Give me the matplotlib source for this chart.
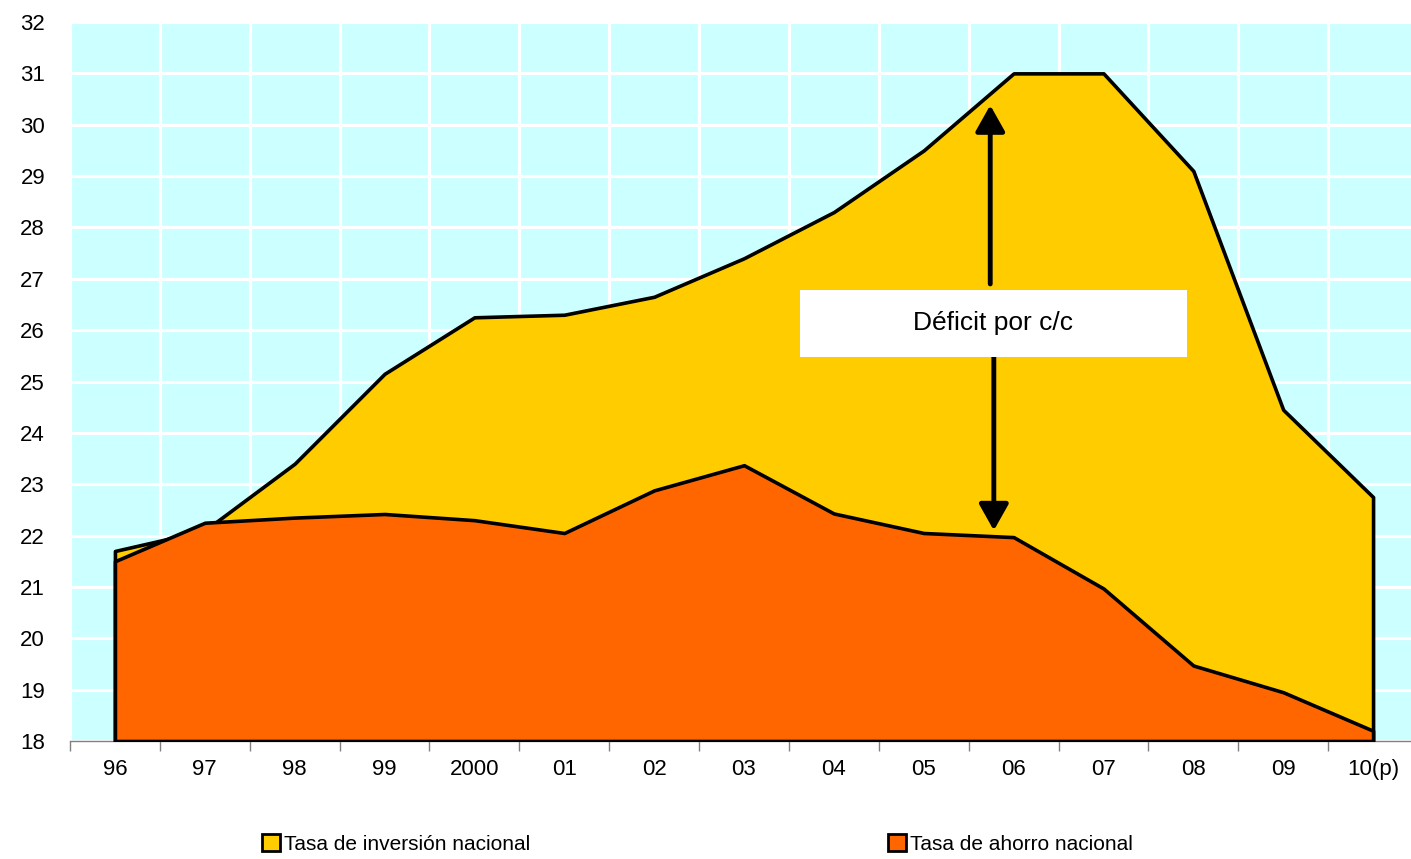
import matplotlib
matplotlib.use("Agg")
import matplotlib.pyplot as plt
from matplotlib.patches import Patch, Rectangle
import numpy as np

plt.rcParams['font.family'] = ['Liberation Sans', 'DejaVu Sans']

years = ["96", "97", "98", "99", "2000", "01", "02", "03", "04", "05", "06", "07", "08", "09", "10(p)"]
inversion = [21.7, 22.1, 23.4, 25.15, 26.25, 26.3, 26.65, 27.4, 28.3, 29.5, 31.0, 31.0, 29.1, 24.45, 22.75]
ahorro = [21.5, 22.25, 22.35, 22.42, 22.3, 22.05, 22.88, 23.37, 22.43, 22.05, 21.97, 20.97, 19.47, 18.95, 18.2]
yticks = list(range(18, 33))

YELLOW = "#FFCC00"
ORANGE = "#FF6600"
BG = "#CCFFFF"

fig = plt.figure(figsize=(14.11, 8.59), dpi=100)
ax = fig.add_axes([70/1411, 1-741/859, (1418-70)/1411, (741-22)/859])
ax.set_facecolor(BG)

x = np.arange(len(years))
base = yticks[0]
ax.fill_between(x, base, inversion, facecolor=YELLOW, edgecolor="black", linewidth=2.6, zorder=3)
ax.fill_between(x, base, ahorro, facecolor=ORANGE, edgecolor="black", linewidth=2.6, zorder=4)

ax.set_xlim(-0.5, len(years)-0.5)
ax.set_ylim(yticks[0], yticks[-1])
ax.set_yticks(yticks)
ax.set_yticklabels([str(v) for v in yticks], fontsize=16)
ax.set_xticks(x)
ax.set_xticklabels(years, fontsize=16)
ax.set_xticks(np.arange(-0.5, len(years), 1.0), minor=True)

ax.tick_params(axis='y', length=0, pad=18)
ax.tick_params(axis='x', which='major', length=0, pad=13)
ax.tick_params(axis='x', which='minor', length=7, width=1, color="#808080")

ax.set_axisbelow(True)
ax.grid(True, axis='y', which='major', color='white', linewidth=2.3)
ax.grid(True, axis='x', which='minor', color='white', linewidth=2.3)

for s in ['top', 'right', 'left']:
    ax.spines[s].set_visible(False)
ax.spines['bottom'].set_color('#808080')
ax.spines['bottom'].set_linewidth(1)

# annotation
arrow_kw = dict(arrowstyle="-|>,head_length=0.8,head_width=0.45", mutation_scale=20,
                color="black", lw=3.5, shrinkA=0, shrinkB=0)
ax.annotate("", xy=(9.74, 30.38), xytext=(9.74, 26.9), arrowprops=arrow_kw, zorder=6)
ax.annotate("", xy=(9.78, 22.1), xytext=(9.78, 25.48), arrowprops=arrow_kw, zorder=6)
ax.add_patch(Rectangle((7.62, 25.48), 11.93-7.62, 26.78-25.48, facecolor='white', edgecolor='none', zorder=7))
ax.text((7.62+11.93)/2, (25.48+26.78)/2, "Déficit por c/c", ha='center', va='center', fontsize=19, zorder=8)

handles = [Patch(facecolor=YELLOW, edgecolor='black', linewidth=2),
           Patch(facecolor=ORANGE, edgecolor='black', linewidth=2)]
fig.legend(handles, ["Tasa de inversión nacional", "Tasa de ahorro nacional"],
           loc='center left', bbox_to_anchor=(262/1411, 1-844/859), ncol=2, frameon=False,
           fontsize=15, handlelength=0.85, handleheight=0.85, handletextpad=0.2,
           columnspacing=17.2, borderaxespad=0, borderpad=0)

fig.savefig("out.png", dpi=100)
